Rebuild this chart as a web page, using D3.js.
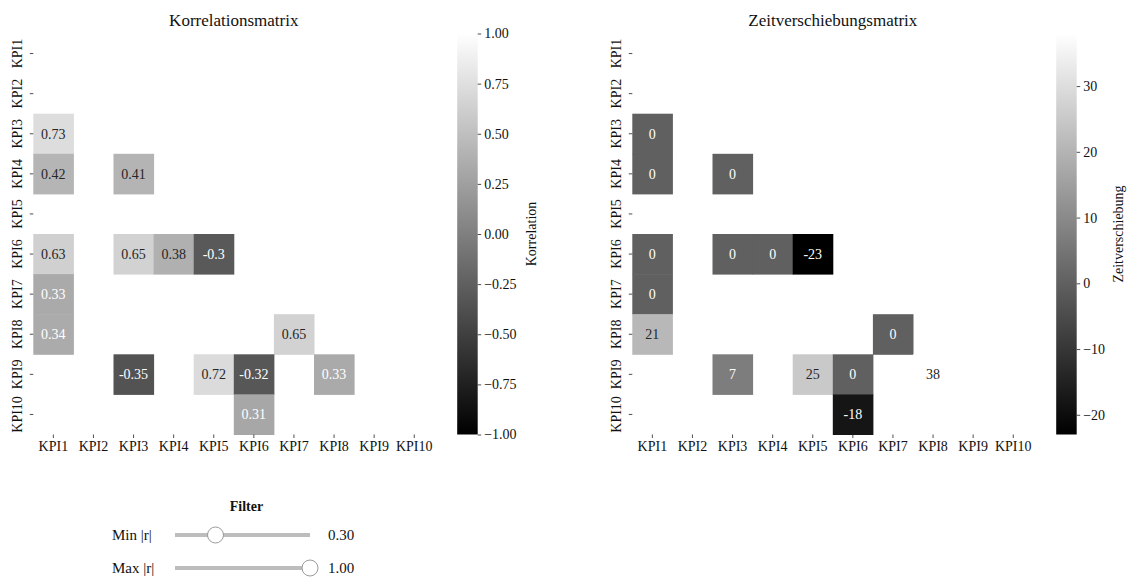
<!DOCTYPE html>
<html>
<head>
<meta charset="utf-8">
<script src="https://cdn.jsdelivr.net/npm/d3@7"></script>
<style>
  html, body { margin: 0; padding: 0; background: #fff; }
  svg, svg text { font-family: "Liberation Serif", "Times New Roman", Times, "Nimbus Roman", serif !important; }
  svg { display: block; }
</style>
</head>
<body>
<svg id="chart" width="1130" height="578"></svg>
<script>
// ---------- data ----------
const kpis = ["KPI1","KPI2","KPI3","KPI4","KPI5","KPI6","KPI7","KPI8","KPI9","KPI10"];

// [row, column, value]
const corrValues = [
  ["KPI3","KPI1",0.73],
  ["KPI4","KPI1",0.42], ["KPI4","KPI3",0.41],
  ["KPI6","KPI1",0.63], ["KPI6","KPI3",0.65], ["KPI6","KPI4",0.38], ["KPI6","KPI5",-0.3],
  ["KPI7","KPI1",0.33],
  ["KPI8","KPI1",0.34], ["KPI8","KPI7",0.65],
  ["KPI9","KPI3",-0.35], ["KPI9","KPI5",0.72], ["KPI9","KPI6",-0.32], ["KPI9","KPI8",0.33],
  ["KPI10","KPI6",0.31]
];

const lagValues = [
  ["KPI3","KPI1",0],
  ["KPI4","KPI1",0], ["KPI4","KPI3",0],
  ["KPI6","KPI1",0], ["KPI6","KPI3",0], ["KPI6","KPI4",0], ["KPI6","KPI5",-23],
  ["KPI7","KPI1",0],
  ["KPI8","KPI1",21], ["KPI8","KPI7",0],
  ["KPI9","KPI3",7], ["KPI9","KPI5",25], ["KPI9","KPI6",0], ["KPI9","KPI8",38],
  ["KPI10","KPI6",-18]
];

const corrTicks = [-1, -0.75, -0.5, -0.25, 0, 0.25, 0.5, 0.75, 1];
const lagTicks = [-20, -10, 0, 10, 20, 30];

const titles = ["Korrelationsmatrix", "Zeitverschiebungsmatrix"];
const cbarLabels = ["Korrelation", "Zeitverschiebung"];

const filterTitle = "Filter";
const sliderLabels = ["Min |r|", "Max |r|"];
const sliderValues = [0.30, 1.00];

// ---------- drawing ----------
const svg = d3.select("#chart");
const textColor = "#111";

function luminance(c) {
  const rgb = d3.rgb(c);
  const f = v => { v /= 255; return v <= 0.03928 ? v / 12.92 : Math.pow((v + 0.055) / 1.055, 2.4); };
  return 0.2126 * f(rgb.r) + 0.7152 * f(rgb.g) + 0.0722 * f(rgb.b);
}

function drawHeatmap(opts) {
  const { x0, y0, size, data, domain, ticks, tickFmt, title, cbarLabel, cbarX, gradId, cbarLabelX } = opts;
  const g = svg.append("g");

  const x = d3.scaleBand().domain(kpis).range([x0, x0 + size]);
  const y = d3.scaleBand().domain(kpis).range([y0, y0 + size]);
  const color = d3.scaleLinear().domain(domain).range(["#000000", "#ffffff"]).clamp(true);

  g.selectAll("rect.cell").data(data).join("rect")
    .attr("class", "cell")
    .attr("x", d => x(d[1]))
    .attr("y", d => y(d[0]))
    .attr("width", x.bandwidth() + 0.5)
    .attr("height", y.bandwidth() + 0.5)
    .attr("fill", d => color(d[2]));

  g.selectAll("text.ann").data(data).join("text")
    .attr("class", "ann")
    .attr("x", d => x(d[1]) + x.bandwidth() / 2)
    .attr("y", d => y(d[0]) + y.bandwidth() / 2)
    .attr("dy", "0.35em")
    .attr("text-anchor", "middle")
    .attr("font-size", "14px")
    .attr("fill", d => luminance(color(d[2])) > 0.408 ? "#262626" : "#ffffff")
    .text(d => String(d[2]));

  const xa = g.append("g")
    .attr("transform", `translate(0,${y0 + size})`)
    .call(d3.axisBottom(x).tickSize(3.5).tickPadding(3.5));
  xa.select(".domain").remove();
  xa.selectAll(".tick line").attr("stroke", "#222").attr("stroke-width", 0.8);
  xa.selectAll(".tick text").attr("font-size", "14px").attr("fill", textColor);

  const ya = g.append("g")
    .attr("transform", `translate(${x0},0)`)
    .call(d3.axisLeft(y).tickSize(3.5).tickPadding(3.5));
  ya.select(".domain").remove();
  ya.selectAll(".tick line").attr("stroke", "#222").attr("stroke-width", 0.8);
  ya.selectAll(".tick text")
    .attr("x", null).attr("dy", "0.35em")
    .attr("transform", "translate(-16,0) rotate(-90)")
    .attr("text-anchor", "middle")
    .attr("font-size", "14px").attr("fill", textColor);

  g.append("text")
    .attr("x", x0 + size / 2).attr("y", 26)
    .attr("text-anchor", "middle")
    .attr("font-size", "17px").attr("fill", textColor)
    .text(title);

  const cbW = 20.5;
  const cy = d3.scaleLinear().domain(domain).range([y0 + size, y0]);
  const defs = svg.append("defs");
  const grad = defs.append("linearGradient").attr("id", gradId)
    .attr("x1", "0").attr("y1", "1").attr("x2", "0").attr("y2", "0");
  grad.append("stop").attr("offset", "0%").attr("stop-color", color(domain[0]));
  grad.append("stop").attr("offset", "100%").attr("stop-color", color(domain[1]));
  g.append("rect")
    .attr("x", cbarX).attr("y", y0)
    .attr("width", cbW).attr("height", size)
    .attr("fill", `url(#${gradId})`);

  const ca = g.append("g")
    .attr("transform", `translate(${cbarX + cbW},0)`)
    .call(d3.axisRight(cy).tickValues(ticks).tickFormat(tickFmt).tickSize(3.5).tickPadding(3));
  ca.select(".domain").remove();
  ca.selectAll(".tick line").attr("stroke", "#222").attr("stroke-width", 0.8);
  ca.selectAll(".tick text").attr("font-size", "14px").attr("fill", textColor);

  g.append("text")
    .attr("transform", `translate(${cbarLabelX},${y0 + size / 2}) rotate(-90)`)
    .attr("text-anchor", "middle")
    .attr("dy", "0.35em")
    .attr("font-size", "14px").attr("fill", textColor)
    .text(cbarLabel);
}

drawHeatmap({
  x0: 33.3, y0: 33.5, size: 401, data: corrValues, domain: [-1, 1],
  ticks: corrTicks, tickFmt: d3.format(".2f"),
  title: titles[0], cbarLabel: cbarLabels[0], cbarX: 457.2, gradId: "gradCorr", cbarLabelX: 531
});

const lagExtent = d3.extent(lagValues, d => d[2]);
drawHeatmap({
  x0: 632.3, y0: 33.5, size: 401, data: lagValues, domain: lagExtent,
  ticks: lagTicks, tickFmt: d3.format("d"),
  title: titles[1], cbarLabel: cbarLabels[1], cbarX: 1056.2, gradId: "gradLag", cbarLabelX: 1118
});

// ---------- filter sliders ----------
const fg = svg.append("g");
fg.append("text")
  .attr("x", 246.5).attr("y", 511)
  .attr("text-anchor", "middle")
  .attr("font-size", "14px").attr("font-weight", "bold").attr("fill", textColor)
  .text(filterTitle);

const sx = d3.scaleLinear().domain([0, 1]).range([175, 310]);
const sliderY = d3.scaleOrdinal().domain(sliderLabels).range([535, 568]);

sliderLabels.forEach((lab, i) => {
  const yy = sliderY(lab);
  fg.append("text")
    .attr("x", 112).attr("y", yy).attr("dy", "0.35em")
    .attr("font-size", "15px").attr("fill", textColor)
    .text(lab);
  fg.append("line")
    .attr("x1", sx(0)).attr("x2", sx(1))
    .attr("y1", yy).attr("y2", yy)
    .attr("stroke", "#bdbdbd").attr("stroke-width", 4);
  fg.append("circle")
    .attr("cx", sx(sliderValues[i])).attr("cy", yy).attr("r", 8)
    .attr("fill", "#fff").attr("stroke", "#9a9a9a").attr("stroke-width", 1);
  fg.append("text")
    .attr("x", 328).attr("y", yy).attr("dy", "0.35em")
    .attr("font-size", "15px").attr("fill", textColor)
    .text(d3.format(".2f")(sliderValues[i]));
});
</script>
</body>
</html>
